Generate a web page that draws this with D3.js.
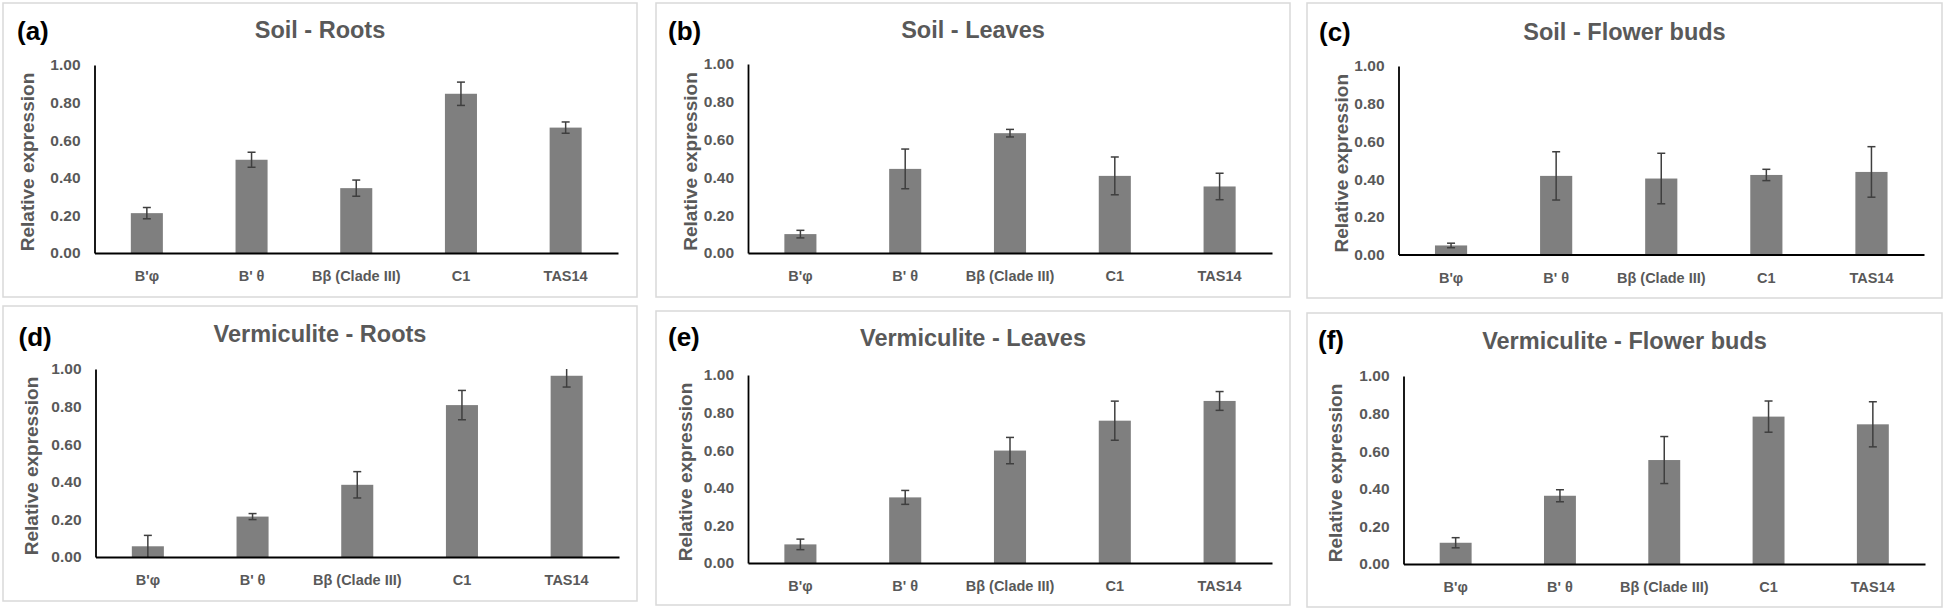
<!DOCTYPE html>
<html>
<head>
<meta charset="utf-8">
<script src="https://cdn.jsdelivr.net/npm/d3@7"></script>
<style>
  html, body { margin: 0; padding: 0; background: #fff; }
  svg { display: block; }
  text { font-family: "Liberation Sans", Arial, sans-serif; font-weight: bold; }
</style>
</head>
<body>
<svg id="chart" width="1946" height="610"></svg>
<script>
// ---------- data ----------
const categories = ["B'φ", "B' θ", "Bβ (Clade III)", "C1", "TAS14"];
const panelLetters = ["(a)", "(b)", "(c)", "(d)", "(e)", "(f)"];
const panelTitles = ["Soil - Roots", "Soil - Leaves", "Soil - Flower buds",
                     "Vermiculite - Roots", "Vermiculite - Leaves", "Vermiculite - Flower buds"];
const yTicks = [0, 0.2, 0.4, 0.6, 0.8, 1.0];
const yLabel = "Relative expression";

const soilRoots = [0.212, 0.496, 0.345, 0.847, 0.667];
const soilRootsErr = [0.030, 0.040, 0.043, 0.062, 0.030];
const soilLeaves = [0.100, 0.445, 0.634, 0.408, 0.352];
const soilLeavesErr = [0.020, 0.105, 0.020, 0.100, 0.070];
const soilBuds = [0.048, 0.417, 0.403, 0.422, 0.438];
const soilBudsErr = [0.012, 0.128, 0.134, 0.030, 0.134];
const vermRoots = [0.057, 0.215, 0.384, 0.808, 0.964];
const vermRootsErr = [0.058, 0.016, 0.070, 0.078, 0.060];
const vermLeaves = [0.099, 0.349, 0.598, 0.757, 0.862];
const vermLeavesErr = [0.028, 0.037, 0.070, 0.104, 0.050];
const vermBuds = [0.113, 0.363, 0.553, 0.784, 0.743];
const vermBudsErr = [0.027, 0.032, 0.125, 0.083, 0.120];

const seriesValues = [soilRoots, soilLeaves, soilBuds, vermRoots, vermLeaves, vermBuds];
const seriesErrors = [soilRootsErr, soilLeavesErr, soilBudsErr, vermRootsErr, vermLeavesErr, vermBudsErr];

// ---------- layout (positions only) ----------
const layout = [
  {x0: 3,    x1: 637,  y0: 3,   y1: 297, ax0: 94.5,   ax1: 618,  ayT: 65,  ayB: 253,   lx: 17,   ly: 31,  ty: 30,  ylx: 27.5},
  {x0: 656,  x1: 1290, y0: 3,   y1: 297, ax0: 748,    ax1: 1272, ayT: 64,  ayB: 253,   lx: 668,  ly: 31,  ty: 30,  ylx: 690},
  {x0: 1307, x1: 1942, y0: 3,   y1: 298, ax0: 1398.5, ax1: 1924, ayT: 66,  ayB: 254.5, lx: 1319, ly: 32,  ty: 32,  ylx: 1341},
  {x0: 3,    x1: 637,  y0: 306, y1: 601, ax0: 95.5,   ax1: 619,  ayT: 369, ayB: 557,   lx: 18.5, ly: 337, ty: 334, ylx: 31.5},
  {x0: 656,  x1: 1290, y0: 311, y1: 605, ax0: 748,    ax1: 1272, ayT: 375, ayB: 563,   lx: 668,  ly: 337, ty: 338, ylx: 685},
  {x0: 1307, x1: 1942, y0: 313, y1: 607, ax0: 1403.5, ax1: 1925, ayT: 376, ayB: 564,   lx: 1318, ly: 340, ty: 341, ylx: 1335.5}
];

const textGray = "#595959";
const barFill = "#7f7f7f";
const errColor = "#3f3f3f";

const svg = d3.select("#chart");

layout.forEach((L, i) => {
  const g = svg.append("g");
  const vals = seriesValues[i];
  const errs = seriesErrors[i];

  // panel frame
  g.append("rect")
    .attr("x", L.x0).attr("y", L.y0)
    .attr("width", L.x1 - L.x0).attr("height", L.y1 - L.y0)
    .attr("fill", "#fff").attr("stroke", "#d9d9d9").attr("stroke-width", 1.5);

  const x = d3.scaleBand().domain(categories).range([L.ax0, L.ax1])
    .paddingInner(0.694).paddingOuter(0.347);
  const y = d3.scaleLinear().domain([0, 1]).range([L.ayB, L.ayT]);

  // bars
  g.selectAll("rect.bar").data(categories).join("rect")
    .attr("class", "bar")
    .attr("x", d => x(d))
    .attr("width", x.bandwidth())
    .attr("y", (d, j) => y(vals[j]))
    .attr("height", (d, j) => y(0) - y(vals[j]))
    .attr("fill", barFill);

  // error bars
  const capW = 4;
  const eg = g.append("g").attr("stroke", errColor).attr("stroke-width", 1.5).attr("fill", "none");
  categories.forEach((c, j) => {
    const cx = x(c) + x.bandwidth() / 2;
    const hiV = vals[j] + errs[j], loV = Math.max(0, vals[j] - errs[j]);
    const hi = y(Math.min(1, hiV)), lo = y(loV);
    eg.append("line").attr("x1", cx).attr("x2", cx).attr("y1", hi).attr("y2", lo);
    if (hiV <= 1) eg.append("line").attr("x1", cx - capW).attr("x2", cx + capW).attr("y1", hi).attr("y2", hi);
    if (vals[j] - errs[j] > 0) eg.append("line").attr("x1", cx - capW).attr("x2", cx + capW).attr("y1", lo).attr("y2", lo);
  });

  // y axis
  const yAx = g.append("g").attr("transform", `translate(${L.ax0},0)`)
    .call(d3.axisLeft(y).tickValues(yTicks).tickFormat(d3.format(".2f")).tickSize(0).tickSizeOuter(0).tickPadding(14));
  yAx.select(".domain").attr("stroke", "#000").attr("stroke-width", 1.8);
  yAx.selectAll("text").attr("fill", textGray).style("font-size", "15.5px")
    .style("font-family", "'Liberation Sans', Arial, sans-serif").style("font-weight", "bold");

  // x axis
  const xAx = g.append("g").attr("transform", `translate(0,${L.ayB})`)
    .call(d3.axisBottom(x).tickSize(0).tickSizeOuter(0).tickPadding(18));
  xAx.select(".domain").attr("stroke", "#000").attr("stroke-width", 1.8);
  xAx.selectAll("text").attr("fill", textGray).style("font-size", "14.5px")
    .style("font-family", "'Liberation Sans', Arial, sans-serif").style("font-weight", "bold");

  // y label
  g.append("text")
    .attr("transform", `translate(${L.ylx},${(L.ayT + L.ayB) / 2 + 3}) rotate(-90)`)
    .attr("text-anchor", "middle").attr("dominant-baseline", "central")
    .attr("fill", textGray).style("font-size", "19px")
    .text(yLabel);

  // title
  g.append("text")
    .attr("x", (L.x0 + L.x1) / 2).attr("y", L.ty)
    .attr("text-anchor", "middle").attr("dominant-baseline", "central")
    .attr("fill", textGray).style("font-size", "23.5px")
    .text(panelTitles[i]);

  // panel letter
  g.append("text")
    .attr("x", L.lx).attr("y", L.ly)
    .attr("dominant-baseline", "central")
    .attr("fill", "#000").style("font-size", "26px")
    .text(panelLetters[i]);
});
</script>
</body>
</html>
